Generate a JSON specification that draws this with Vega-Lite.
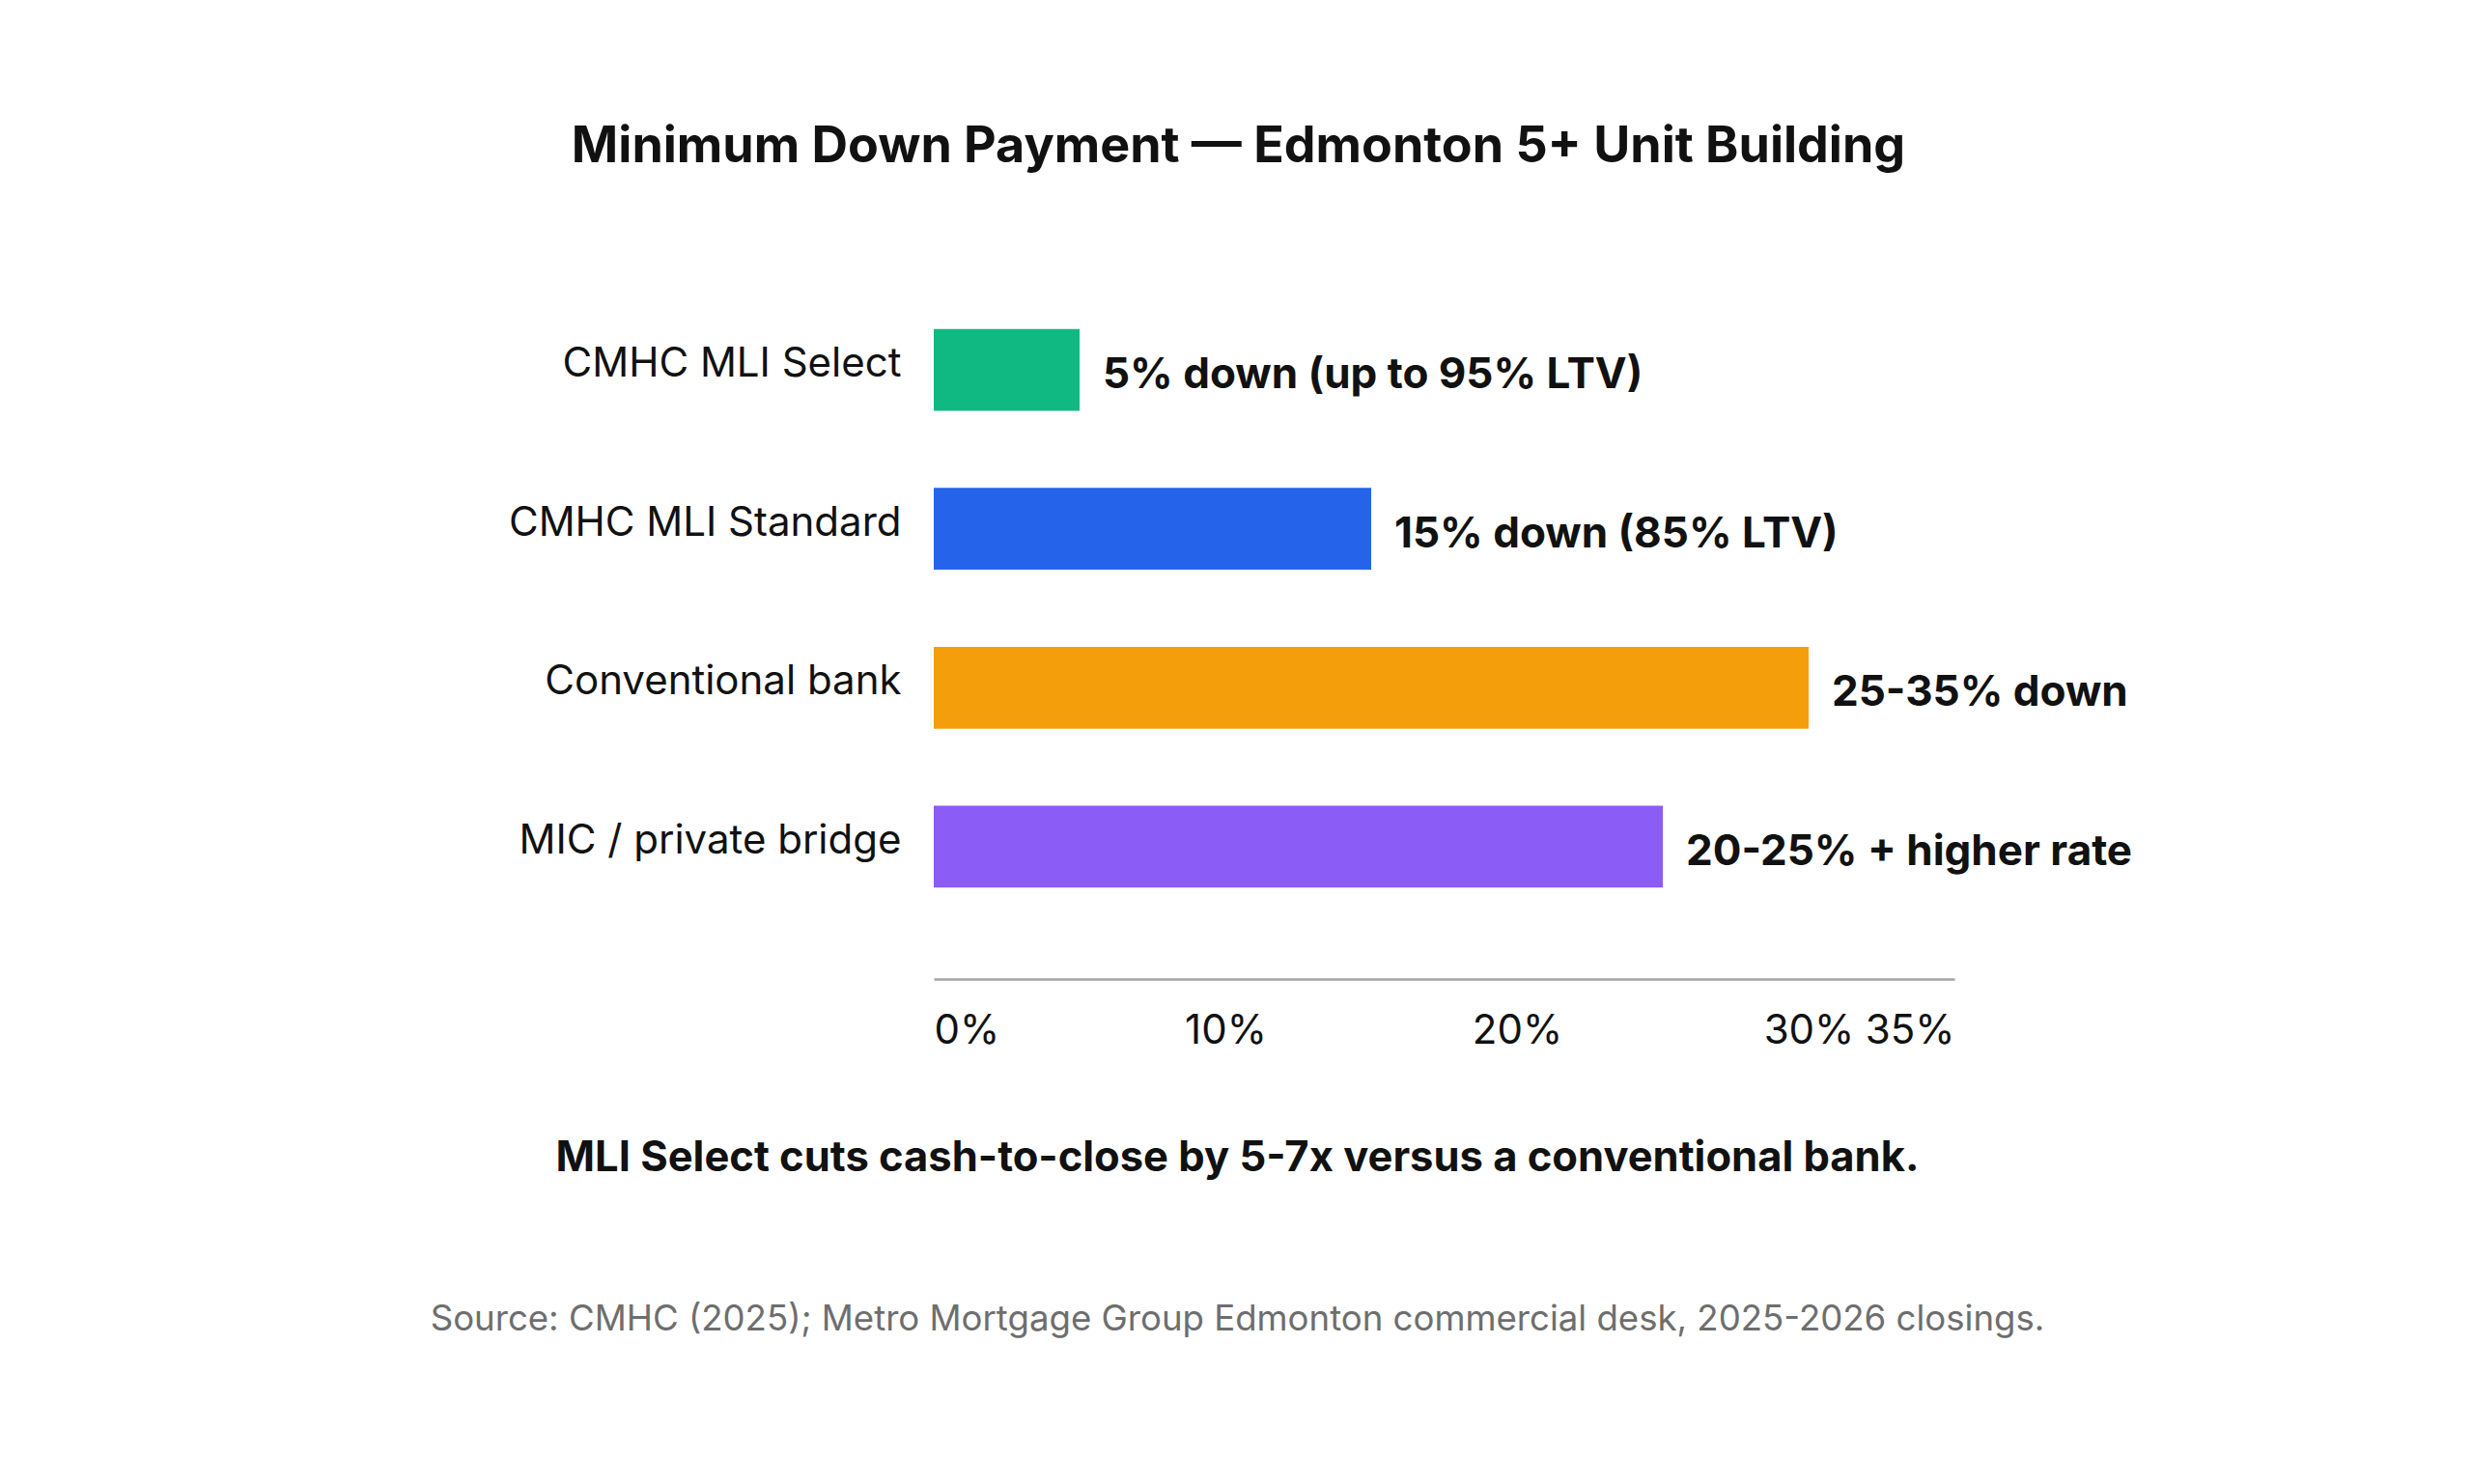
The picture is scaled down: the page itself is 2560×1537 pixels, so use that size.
{
  "$schema": "https://vega.github.io/schema/vega-lite/v6.json",
  "autosize": {"type": "none"},
  "padding": {"left": 967, "top": 246, "right": 536, "bottom": 523},
  "width": 1057,
  "height": 768,
  "background": "white",
  "title": {
    "text": "Minimum Down Payment — Edmonton 5+ Unit Building",
    "font": "Inter",
    "fontSize": 52,
    "fontWeight": 700,
    "color": "#111111",
    "anchor": "middle",
    "frame": "group",
    "baseline": "middle",
    "dx": -213,
    "offset": 42
  },
  "data": {
    "values": [
      {"option": "CMHC MLI Select", "down": 5, "label": "5% down (up to 95% LTV)"},
      {"option": "CMHC MLI Standard", "down": 15, "label": "15% down (85% LTV)"},
      {"option": "Conventional bank", "down": 30, "label": "25-35% down"},
      {"option": "MIC / private bridge", "down": 25, "label": "20-25% + higher rate"}
    ]
  },
  "encoding": {
    "y": {
      "field": "option",
      "type": "nominal",
      "sort": null,
      "scale": {"paddingInner": 0.485, "paddingOuter": 0.575},
      "axis": {
        "title": "Source: CMHC (2025); Metro Mortgage Group Edmonton commercial desk, 2025-2026 closings.",
        "titleAngle": 0,
        "titleX": 314,
        "titleY": 1120,
        "titleAlign": "center",
        "titleBaseline": "middle",
        "titleFont": "Inter",
        "titleFontSize": 36.6,
        "titleFontWeight": 400,
        "titleColor": "#6e6e6e",
        "domain": false,
        "ticks": false,
        "labelFont": "Inter",
        "labelFontSize": 42,
        "labelLimit": 700,
        "labelColor": "#111111",
        "labelPadding": 34,
        "labelOffset": -6
      }
    },
    "x": {
      "field": "down",
      "type": "quantitative",
      "scale": {"domain": [0, 35], "nice": false},
      "axis": {
        "values": [0, 10, 20, 30, 35],
        "labelExpr": "datum.value + '%'",
        "labelFlush": true,
        "labelFont": "Inter",
        "labelFontSize": 42,
        "labelColor": "#111111",
        "labelPadding": 33,
        "ticks": false,
        "grid": false,
        "domainColor": "#a3a3a3",
        "domainWidth": 2.5,
        "title": "MLI Select cuts cash-to-close by 5-7x versus a conventional bank.",
        "titleX": 314,
        "titleY": 185,
        "titleAlign": "center",
        "titleBaseline": "middle",
        "titleFont": "Inter",
        "titleFontSize": 43.5,
        "titleFontWeight": 700,
        "titleColor": "#111111"
      }
    }
  },
  "layer": [
    {
      "mark": {"type": "bar"},
      "encoding": {
        "color": {
          "field": "option",
          "type": "nominal",
          "scale": {
            "domain": ["CMHC MLI Select", "CMHC MLI Standard", "Conventional bank", "MIC / private bridge"],
            "range": ["#10b981", "#2563eb", "#f59e0b", "#8b5cf6"]
          },
          "legend": null
        }
      }
    },
    {
      "mark": {
        "type": "text",
        "align": "left",
        "baseline": "middle",
        "dx": 24,
        "dy": 6,
        "font": "Inter",
        "fontSize": 44,
        "fontWeight": 700,
        "color": "#111111"
      },
      "encoding": {
        "text": {"field": "label", "type": "nominal"}
      }
    }
  ],
  "config": {
    "view": {"stroke": null}
  }
}
